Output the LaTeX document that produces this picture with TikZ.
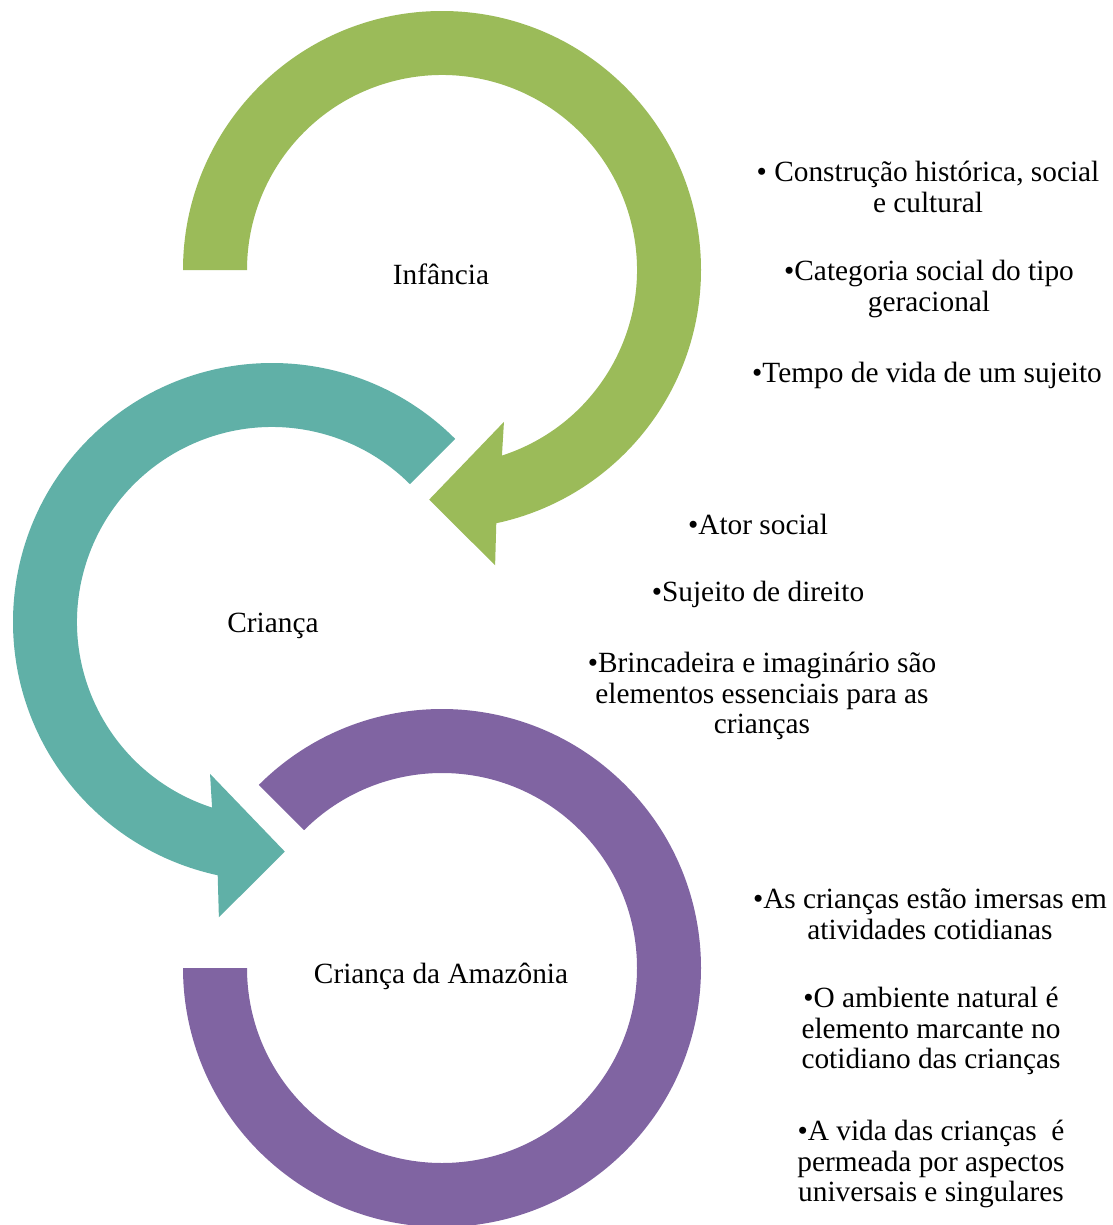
\documentclass[tikz,border=0pt]{standalone}
\usepackage{fontspec}
\setmainfont{Liberation Serif}

\tikzset{every picture/.style={line width=0.75pt}}
\tikzset{lbl/.style={align=center, inner sep=0pt, font=\fontsize{22}{22.9}\selectfont}}

\begin{document}
\begin{tikzpicture}[x=0.75pt,y=0.75pt,yscale=-1,xscale=1]
	\useasboundingbox (0,0) rectangle (1113,1225);

	%Shape: Circular Arrow (Infancia)
	\begin{scope}[shift={(442,270)}]
	\fill [fill={rgb, 255:red, 155; green, 187; blue, 89 }  ,fill opacity=1 ] (180:259) arc[start angle=180, end angle=437.9, radius=259] -- (79.8:300) -- (93.2:230) -- (67.8:164) -- (72.1:195) arc[start angle=72.1, end angle=-180, radius=195] -- cycle ;
	\end{scope}
	%Shape: Circular Arrow (Crianca)
	\begin{scope}[shift={(272,622)}]
	\fill [fill={rgb, 255:red, 96; green, 176; blue, 167 }  ,fill opacity=1 ] (-45:259) arc[start angle=-45, end angle=-257.9, radius=259] -- (-259.8:300) -- (-273.2:230) -- (-247.8:164) -- (-252.1:195) arc[start angle=-252.1, end angle=-45, radius=195] -- cycle ;
	\end{scope}
	%Shape: Arc (Crianca da Amazonia)
	\begin{scope}[shift={(442,968)}]
	\fill [fill={rgb, 255:red, 128; green, 100; blue, 162 }  ,fill opacity=1 ] (-135:259) arc[start angle=-135, end angle=180, radius=259] -- (180:195) arc[start angle=180, end angle=-135, radius=195] -- cycle ;
	\end{scope}

	% Text Node
	\node [lbl] (infancia) at (441,274) {Infância};
	% Text Node
	\node [lbl] (crianca) at (273,626) {Criança};
	% Text Node
	\node [lbl] (amazonia) at (441,976) {Criança da Amazônia};

	% Text Node
	\node [lbl] (construcao) at (928,187) {• Construção histórica, social\\e cultural};
	% Text Node
	\node [lbl] (categoria) at (929,289) {•Categoria social do tipo\\geracional};
	% Text Node
	\node [lbl] (tempo) at (927,375) {•Tempo de vida de um sujeito};

	% Text Node
	\node [lbl] (ator) at (758,524) {•Ator social};
	% Text Node
	\node [lbl] (sujeito) at (758,594) {•Sujeito de direito};
	% Text Node
	\node [lbl] (brincadeira) at (762,696) {•Brincadeira e imaginário são\\elementos essenciais para as\\crianças};

	% Text Node
	\node [lbl] (imersas) at (930,914) {•As crianças estão imersas em\\atividades cotidianas};
	% Text Node
	\node [lbl] (ambiente) at (931,1031) {•O ambiente natural é\\elemento marcante no\\cotidiano das crianças};
	% Text Node
	\node [lbl] (vida) at (931,1164) {•A vida das crianças~ é\\permeada por aspectos\\universais e singulares};

\end{tikzpicture}
\end{document}
